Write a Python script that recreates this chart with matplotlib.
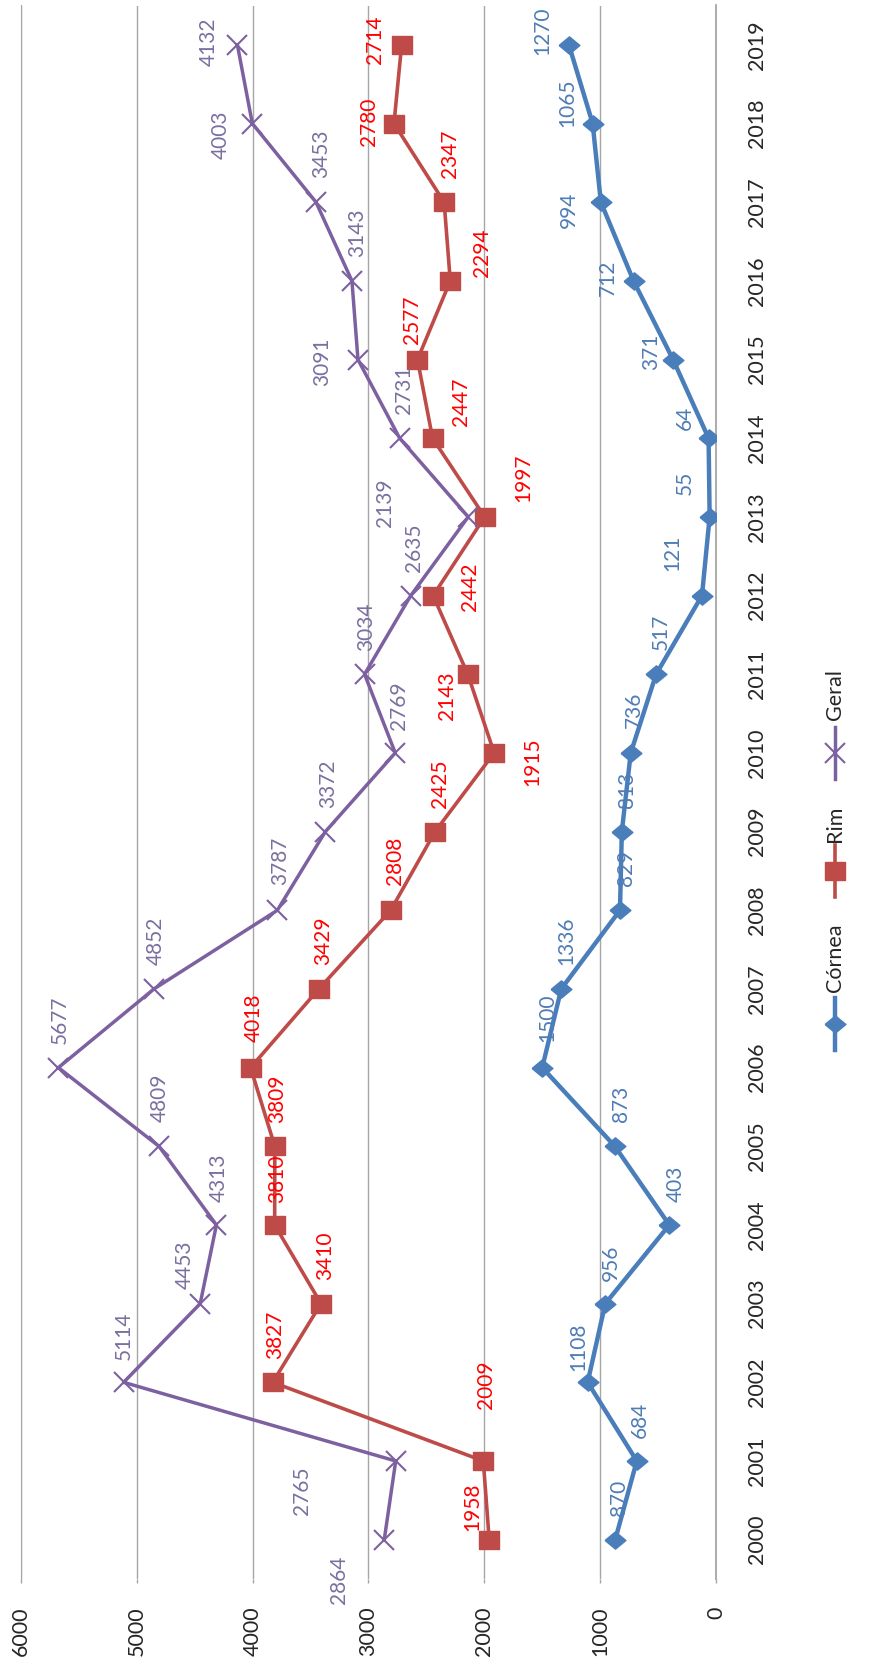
import matplotlib
matplotlib.use('Agg')
import matplotlib.pyplot as plt
from matplotlib.lines import Line2D

plt.rcParams['font.family'] = ['Lato', 'DejaVu Sans']

years = list(range(2000, 2020))
cornea = [870, 684, 1108, 956, 403, 873, 1500, 1336, 829, 813, 736, 517, 121, 55, 64, 371, 712, 994, 1065, 1270]
rim = [1958, 2009, 3827, 3410, 3810, 3809, 4018, 3429, 2808, 2425, 1915, 2143, 2442, 1997, 2447, 2577, 2294, 2347, 2780, 2714]
geral = [2864, 2765, 5114, 4453, 4313, 4809, 5677, 4852, 3787, 3372, 2769, 3034, 2635, 2139, 2731, 3091, 3143, 3453, 4003, 4132]
value_ticks = [0, 1000, 2000, 3000, 4000, 5000, 6000]
series_names = ['Córnea', 'Rim', 'Geral']

# label offsets in pixels (right, up) from each point, as placed in the picture
cornea_off = [(4, 42), (3, 41), (-9, 35), (6, 41), (6, 41), (6, 42), (5, 50), (5, 48), (6, 42), (5, 42),
              (3, 43), (5, 42), (-30, 43), (-25, 34), (-24, 20), (-22, 8), (-26, 3), (-32, -8), (-25, 21), (-27, 14)]
rim_off = [(-17, 33), (3, 76), (2, 47), (4, 48), (2, 46), (2, 47), (3, 50), (4, 48), (4, 49), (5, 48),
           (38, -9), (-21, -22), (37, 9), (39, 39), (28, 36), (-5, 40), (32, 28), (6, 48), (-25, 2), (-27, 5)]
geral_off = [(-45, -40), (-94, -30), (0, 47), (-15, 39), (2, 47), (1, 48), (1, 48), (2, 48), (3, 49), (3, 48),
             (4, 47), (2, 47), (3, 48), (-83, 14), (4, 48), (-36, -2), (5, 48), (5, 48), (-32, -11), (-29, 3)]

W, H = 870, 1668
fig = plt.figure(figsize=(W / 100, H / 100), dpi=100)
ax = fig.add_axes([21 / W, 1 - 1579 / H, 695 / W, (1579 - 5.5) / H])

# Excel markers come out a bit wider than tall once the chart is turned
diamond = [(-1, 0), (0, -0.83), (1, 0), (0, 0.83), (-1, 0)]
square = [(-1, -0.9), (1, -0.9), (1, 0.9), (-1, 0.9), (-1, -0.9)]
styles = [
    dict(color='#4A7EBB', marker=diamond, ms=15, mew=1, lw=3.2),
    dict(color='#BE4B48', marker=square, ms=14, mew=1, lw=2.6),
    dict(color='#7D60A0', marker='x', ms=14, mew=1.5, lw=2.5),
]
label_colors = ['#4F7CB5', '#FF0000', '#7B6FA0']

for vals, offs, st, lc in zip([cornea, rim, geral], [cornea_off, rim_off, geral_off], styles, label_colors):
    ax.plot(vals, years, color=st['color'], lw=st['lw'], marker=st['marker'], ms=st['ms'],
            mew=st['mew'], mec=st['color'], mfc=st['color'], solid_joinstyle='round', zorder=3)
    for yr, v, (dx, dy) in zip(years, vals, offs):
        ax.annotate(str(v), (v, yr), xytext=(dx, dy), textcoords='offset pixels',
                    rotation=90, ha='center', va='center', color=lc, fontsize=15,
                    annotation_clip=False, zorder=4)

ax.set_xlim(6000, 0)
ax.set_ylim(1999.5, 2019.5)

ax.set_xticks(value_ticks)
ax.set_xticklabels([str(v) for v in value_ticks], rotation=90, va='top', ha='center')
ax.tick_params(axis='x', direction='out', length=3, width=1, color='#A6A6A6', pad=17,
               labelsize=15.5, labelcolor='#262626')

ax.yaxis.tick_right()
ax.set_yticks(years)
ax.set_yticklabels([str(y) for y in years], rotation=90, va='center', ha='left')
ax.tick_params(axis='y', length=0, pad=22, labelsize=15.5, labelcolor='#262626')

ax.xaxis.grid(True, color='#A6A6A6', lw=1.0)
ax.set_axisbelow(True)
for s in ['top', 'bottom']:
    ax.spines[s].set_visible(False)
ax.spines['left'].set_color('#A6A6A6')
ax.spines['right'].set_color('#A6A6A6')
ax.spines['right'].set_linewidth(1.3)

# legend drawn by hand, rotated like the rest of the chart
legend_x = 835
legend_pos = [(1024, 992), (871, 842), (753, 720)]  # (line centre y, text bottom y) in pixels from top
for name, st, (ly, ty) in zip(series_names, styles, legend_pos):
    fy = 1 - ly / H
    fig.add_artist(Line2D([legend_x / W, legend_x / W], [fy - 26 / H, fy + 26 / H],
                          transform=fig.transFigure, color=st['color'], lw=st['lw']))
    fig.add_artist(Line2D([legend_x / W], [fy], transform=fig.transFigure, color=st['color'],
                          marker=st['marker'], ms=st['ms'], mew=st['mew'], mec=st['color'],
                          mfc=st['color'], lw=0))
    fig.text(legend_x / W, 1 - ty / H, name, rotation=90, ha='center', va='bottom',
             fontsize=15.5, color='#262626')

fig.savefig('out.png', dpi=100)
